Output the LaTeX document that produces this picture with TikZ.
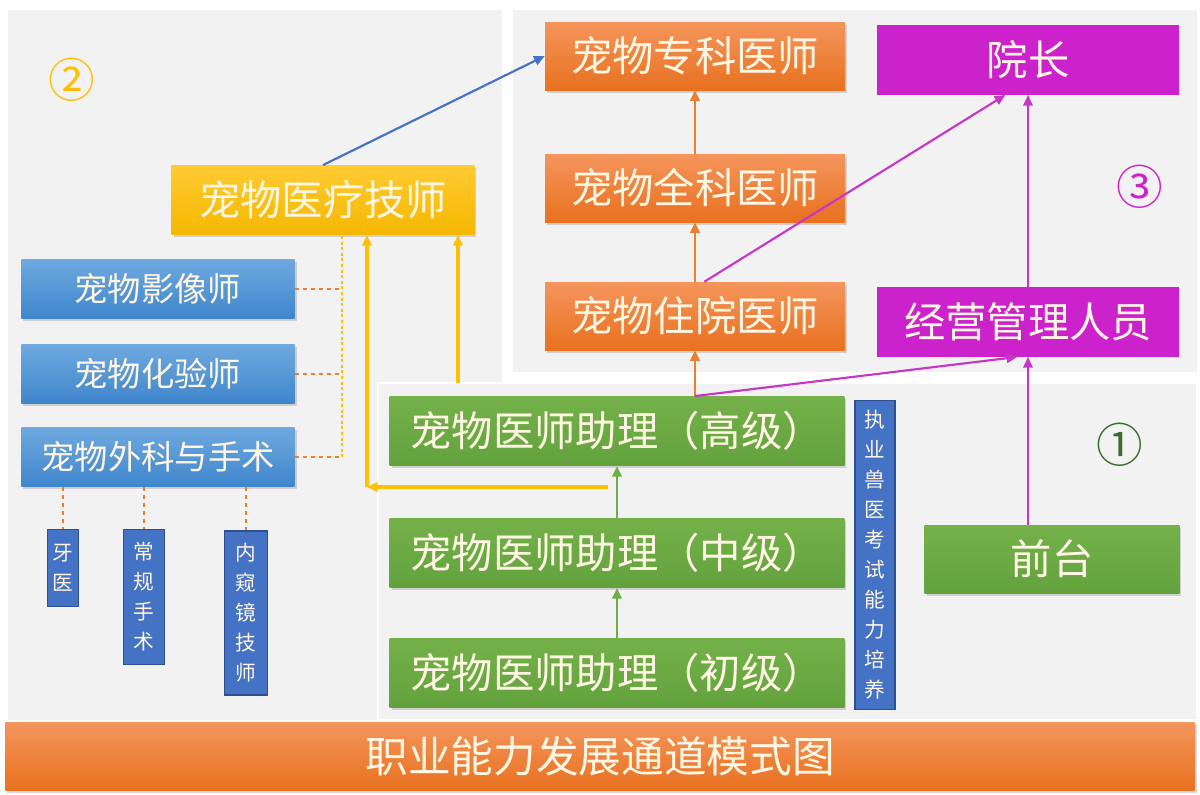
\documentclass[tikz,border=0pt]{standalone}
\usepackage{fontspec}
\setmainfont{Noto Sans CJK SC}
\usetikzlibrary{arrows.meta}
\usetikzlibrary{shadows}

\definecolor{panelgray}{HTML}{F2F2F2}
\definecolor{boxtext}{HTML}{FFF6E3}
\definecolor{orangetop}{HTML}{F4955C}
\definecolor{orangebot}{HTML}{E8711F}
\definecolor{orangeline}{HTML}{ED7D31}
\definecolor{magentabox}{HTML}{CC22CC}
\definecolor{magentaline}{HTML}{C836C8}
\definecolor{goldtop}{HTML}{FFCB33}
\definecolor{goldbot}{HTML}{F5B700}
\definecolor{goldline}{HTML}{FFC000}
\definecolor{bluetop}{HTML}{6EA9DF}
\definecolor{bluebot}{HTML}{3F86CC}
\definecolor{blueline}{HTML}{4472C4}
\definecolor{navybox}{HTML}{4472C4}
\definecolor{navyborder}{HTML}{2F4F8F}
\definecolor{greentop}{HTML}{74B14B}
\definecolor{greenbot}{HTML}{62A23C}
\definecolor{greenline}{HTML}{70AD47}
\definecolor{darkgreen}{HTML}{3A6B2A}

\begin{document}
\begin{tikzpicture}[x=0.75pt,y=-0.75pt]
  \tikzset{box/.style = {shape=rectangle,inner sep=2pt,text=boxtext,drop shadow={opacity=0.3,shadow xshift=1.5pt,shadow yshift=-2pt}}}
  \tikzset{orangebox/.style = {box,top color=orangetop,bottom color=orangebot,minimum width=225pt,minimum height=51pt,font=\fontsize{31}{33}\selectfont}}
  \tikzset{magentabox/.style = {shape=rectangle,fill=magentabox,text=boxtext,minimum width=227pt,minimum height=52pt,font=\fontsize{31}{33}\selectfont}}
  \tikzset{goldbox/.style = {box,top color=goldtop,bottom color=goldbot,minimum width=227pt,minimum height=52pt,font=\fontsize{31}{33}\selectfont}}
  \tikzset{bluebox/.style = {box,top color=bluetop,bottom color=bluebot,minimum width=205pt,minimum height=44pt,font=\fontsize{25}{27}\selectfont}}
  \tikzset{greenbox/.style = {box,top color=greentop,bottom color=greenbot,minimum width=341pt,minimum height=52pt,font=\fontsize{31}{33}\selectfont}}
  \tikzset{navybox/.style = {shape=rectangle,fill=navybox,draw=navyborder,line width=0.8pt,text=boxtext,align=center,inner sep=1pt,font=\fontsize{15.5}{22.5}\selectfont}}
  \tikzset{panel/.style = {fill=panelgray,draw=none}}
  \tikzset{edge/.style = {-{Triangle[length=8pt,width=7pt]},line width=2.2pt}}
  \tikzset{dashline/.style = {orangeline,dashed,line width=1.5pt}}

  \useasboundingbox (0,0) rectangle (1200,794);
  \fill[white] (0,0) rectangle (1200,794);

  % panels
  \path[panel] (8,10) rectangle (502,720);
  \path[panel] (513,10) rectangle (1197,372);
  \path[panel,draw=white,line width=2pt] (378,383) rectangle (1197,720);

  \node[text=goldline,font=\fontsize{35}{37}\selectfont] (n2) at (72,80) {②};
  \node[text=magentabox,font=\fontsize{35}{37}\selectfont] (n3) at (1140,187) {③};
  \node[text=darkgreen,font=\fontsize{35}{37}\selectfont] (n1) at (1120,445) {①};

  % doctors
  \node[orangebox] (zk) at (695,56) {宠物专科医师};
  \node[orangebox] (qk) at (695,188) {宠物全科医师};
  \node[orangebox] (zy) at (695,316) {宠物住院医师};

  % management
  \node[magentabox] (yz) at (1028,60) {院长};
  \node[magentabox] (jy) at (1028,322) {经营管理人员};

  % technicians
  \node[goldbox] (js) at (323,200) {宠物医疗技师};
  \node[bluebox] (yx) at (158,289) {宠物影像师};
  \node[bluebox] (hy) at (158,374) {宠物化验师};
  \node[bluebox] (wk) at (158,457) {宠物外科与手术};
  \node[navybox,minimum width=23pt,minimum height=58pt] (ya) at (63,568) {牙\\医};
  \node[navybox,minimum width=31pt,minimum height=101pt] (cg) at (144,597) {常\\规\\手\\术};
  \node[navybox,minimum width=32pt,minimum height=123pt] (nk) at (246,613) {内\\窥\\镜\\技\\师};

  % assistants
  \node[greenbox] (gj) at (617,431) {宠物医师助理（高级）};
  \node[greenbox] (zj) at (617,553) {宠物医师助理（中级）};
  \node[greenbox] (cj) at (617,673) {宠物医师助理（初级）};
  \node[navybox,minimum width=30pt,minimum height=232pt] (zs) at (875,555) {执\\业\\兽\\医\\考\\试\\能\\力\\培\\养};
  \node[box,top color=greentop,bottom color=greenbot,minimum width=191pt,minimum height=51pt,font=\fontsize{31}{33}\selectfont] (qt) at (1052,559) {前台};

  \node[box,top color=orangetop,bottom color=orangebot,minimum width=892pt,minimum height=51pt,font=\fontsize{32}{34}\selectfont] (title) at (600,756) {职业能力发展通道模式图};

  \coordinate (ystart) at (608,487);
  \coordinate (ybend) at (367,487);
  \coordinate (yright) at (458,383);
  \coordinate (dtop) at (342,236);

  % connectors
  \draw[edge,blueline,line width=1.6pt] (js.north) -- (zk.west);
  \foreach \from/\to in {qk/zk, zy/qk}
    \path[edge,orangeline] (\from) edge (\to);
  \draw[edge,orangeline] (gj.north -| zy.south) -- (zy.south);
  \foreach \from/\to in {cj/zj, zj/gj}
    \draw[edge,greenline] (\from.north) -- (\to.south);

  \draw[edge,magentaline,line width=1.6pt] ([xshift=7pt]zy.north) -- ([xshift=-17pt]yz.south);
  \draw[edge,magentaline,line width=1.6pt] (gj.north -| zy.south) -- ([xshift=-8pt]jy.south);
  \draw[edge,magentaline,line width=1.6pt] (jy.north) -- (yz.south);
  \draw[edge,magentaline,line width=1.6pt] (qt.north -| jy.south) -- (jy.south);

  \draw[edge,goldline,line width=2.4pt] (ystart) -- (ybend);
  \draw[edge,goldline,line width=2.4pt] (ybend) -- (ybend |- js.south);
  \draw[edge,goldline,line width=2.4pt] (yright) -- (yright |- js.south);
  \draw[goldline,dotted,line width=2.2pt] (dtop) -- (dtop |- wk.east);

  \foreach \from in {yx, hy, wk}
    \draw[dashline] (\from.east) -- (\from.east -| dtop);
  \foreach \to in {ya, cg, nk}
    \draw[dashline] (wk.south -| \to) -- (\to.north);
\end{tikzpicture}
\end{document}
